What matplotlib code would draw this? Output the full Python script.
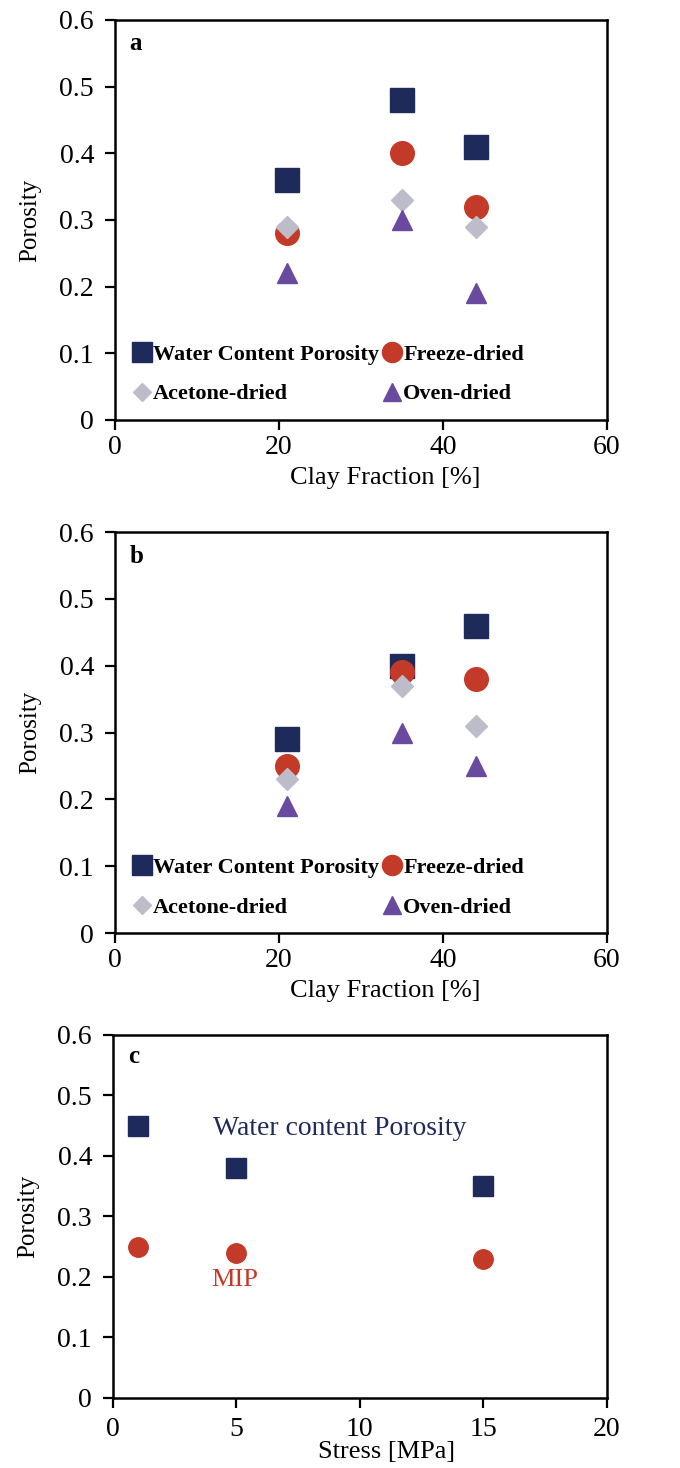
import matplotlib
matplotlib.use("Agg")
import matplotlib.pyplot as plt

plt.rcParams['font.family'] = ['Liberation Serif', 'DejaVu Serif']

# panel a / b : clay fraction vs porosity
clay = [21, 35, 44]
a_water = [0.36, 0.48, 0.41]
a_freeze = [0.28, 0.40, 0.32]
a_acetone = [0.29, 0.33, 0.29]
a_oven = [0.22, 0.30, 0.19]

b_water = [0.29, 0.40, 0.46]
b_freeze = [0.25, 0.39, 0.38]
b_acetone = [0.23, 0.37, 0.31]
b_oven = [0.19, 0.30, 0.25]

# panel c : stress vs porosity
stress = [1, 5, 15]
c_water = [0.45, 0.38, 0.35]
c_mip = [0.25, 0.24, 0.23]

series_names = ["Water Content Porosity", "Freeze-dried", "Acetone-dried", "Oven-dried"]

NAVY = '#1e2a5a'
RED = '#c43a28'
GREY = '#bdbdc9'
PURPLE = '#6a4a9e'


def style_axes(ax, xlim, xticks):
    ax.set_xlim(xlim)
    ax.set_ylim(0, 0.6)
    ax.set_xticks(xticks)
    ax.set_yticks([0, 0.1, 0.2, 0.3, 0.4, 0.5, 0.6])
    ax.set_yticklabels(['0', '0.1', '0.2', '0.3', '0.4', '0.5', '0.6'])
    ax.tick_params(direction='out', length=7, width=1.6, labelsize=20,
                   top=False, right=False)
    ax.tick_params(axis='y', pad=8)
    for s in ax.spines.values():
        s.set_linewidth(1.8)
    ax.set_ylabel("Porosity", fontsize=18)
    ax.yaxis.set_label_coords(-0.15, 0.5)


def clay_panel(ax, water, freeze, acetone, oven, letter):
    h1, = ax.plot(clay, water, 's', color=NAVY, ms=17, ls='none')
    h2, = ax.plot(clay, freeze, 'o', color=RED, ms=17, ls='none')
    h3, = ax.plot(clay, acetone, 'D', color=GREY, ms=11, ls='none')
    h4, = ax.plot(clay, oven, '^', color=PURPLE, ms=15, ls='none')
    style_axes(ax, (0, 60), [0, 20, 40, 60])
    ax.tick_params(axis='x', pad=4)
    ax.set_xlabel("Clay Fraction [%]", fontsize=19)
    ax.xaxis.set_label_coords(0.55, -0.118)
    ax.text(0.03, 0.94, letter, transform=ax.transAxes, fontsize=18,
            fontweight='bold', va='center')
    # row-wise order: Water, Freeze / Acetone, Oven
    ax.legend([h1, h3, h2, h4],
              [series_names[0], series_names[2], series_names[1], series_names[3]],
              loc='lower left', bbox_to_anchor=(0.0, 0.0), ncol=2, frameon=False,
              prop={'weight': 'bold', 'size': 16}, handletextpad=0.0,
              columnspacing=0.1, markerscale=0.85, handlelength=1.0,
              labelspacing=0.85, borderaxespad=0.3, borderpad=0.4)


fig = plt.figure(figsize=(6.8, 14.68), dpi=100)

ax_a = fig.add_axes([0.169, 0.7139, 0.7235, 0.2725])
clay_panel(ax_a, a_water, a_freeze, a_acetone, a_oven, 'a')

ax_b = fig.add_axes([0.169, 0.3644, 0.7235, 0.2732])
clay_panel(ax_b, b_water, b_freeze, b_acetone, b_oven, 'b')

ax_c = fig.add_axes([0.166, 0.0477, 0.726, 0.2473])
ax_c.plot(stress, c_water, 's', color=NAVY, ms=14, ls='none')
ax_c.plot(stress, c_mip, 'o', color=RED, ms=14, ls='none')
style_axes(ax_c, (0, 20), [0, 5, 10, 15, 20])
ax_c.tick_params(axis='x', pad=7)
ax_c.set_xlabel("Stress [MPa]", fontsize=19)
ax_c.xaxis.set_label_coords(0.555, -0.118)
ax_c.text(0.03, 0.94, 'c', transform=ax_c.transAxes, fontsize=18,
          fontweight='bold', va='center')
ax_c.text(4.05, 0.446, "Water content Porosity", color=NAVY, fontsize=20, va='center')
ax_c.text(4.0, 0.195, "MIP", color=RED, fontsize=19, va='center')

fig.savefig("out.png", dpi=100)
